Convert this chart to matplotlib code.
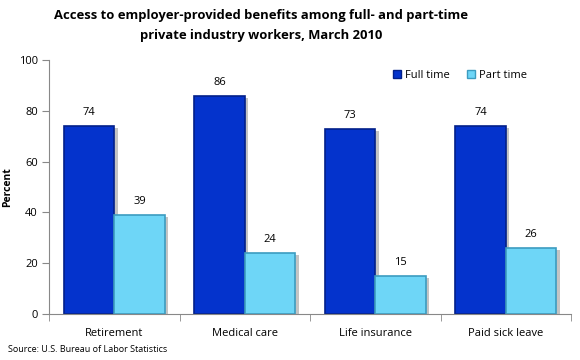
import matplotlib
matplotlib.use("Agg")
import matplotlib.pyplot as plt
from matplotlib.patches import Patch
import numpy as np

categories = ["Retirement", "Medical care", "Life insurance", "Paid sick leave"]
full_time = [74, 86, 73, 74]
part_time = [39, 24, 15, 26]
series_names = ["Full time", "Part time"]
yticks = [0, 20, 40, 60, 80, 100]

plt.rcParams['font.family'] = ['Open Sans', 'DejaVu Sans']

W, H = 580, 360
fig = plt.figure(figsize=(W/100, H/100), dpi=100)
ax = fig.add_axes([49/W, 1-314/H, (571-49)/W, (314-60)/H])

x = np.arange(len(categories))
bw = 0.387
full_col = "#0433CC"
full_edge = "#02208a"
part_col = "#6ED6F7"
part_edge = "#3c9cc0"

for xs, vals, fc, ec in [(x - bw/2, full_time, full_col, full_edge),
                         (x + bw/2, part_time, part_col, part_edge)]:
    ax.bar(xs + 0.025, vals, bw, bottom=-0.8, color="#c4c4c4", zorder=1)
    bars = ax.bar(xs, vals, bw, color=fc, edgecolor=ec, linewidth=1.2, zorder=2)
    for b, v in zip(bars, vals):
        ax.text(b.get_x() + b.get_width()/2, v + 3, str(v), ha="center", va="bottom",
                fontsize=8, color="#000000")

ax.set_xlim(-0.5, len(categories) - 0.5)
ax.set_ylim(0, 100)
ax.set_yticks(yticks)
ax.set_yticklabels([str(t) for t in yticks], fontsize=8)
ax.set_xticks(x)
ax.set_xticklabels(categories, fontsize=8)
ax.set_xticks(np.arange(-0.5, len(categories)), minor=True)
ax.tick_params(axis="x", which="major", length=0, pad=10)
ax.tick_params(axis="x", which="minor", length=5, direction="out", color="#888888")
ax.tick_params(axis="y", length=5, direction="out", color="#888888", pad=3)
for s in ["top", "right"]:
    ax.spines[s].set_visible(False)
for s in ["left", "bottom"]:
    ax.spines[s].set_color("#888888")
ax.set_ylabel("Percent", fontsize=7.5, fontweight="bold")
ax.yaxis.set_label_coords((13 - 49)/(571-49), 0.5)

handles = [Patch(facecolor=full_col, edgecolor=full_edge),
           Patch(facecolor=part_col, edgecolor=part_edge)]
ax.legend(handles, series_names, loc="upper right", bbox_to_anchor=(537/W, 1-60/H),
          bbox_transform=fig.transFigure, ncol=2, frameon=False, fontsize=8,
          handlelength=0.7, handleheight=0.7, handletextpad=0.4, columnspacing=1.5)

fig.text(261/W, 1-16/H, "Access to employer-provided benefits among full- and part-time",
         ha="center", va="center", fontsize=9.4, fontweight="bold")
fig.text(261/W, 1-36/H, "private industry workers, March 2010",
         ha="center", va="center", fontsize=9.4, fontweight="bold")
fig.text(8/W, 1-350/H, "Source: U.S. Bureau of Labor Statistics", ha="left", va="center",
         fontsize=6.5)

fig.savefig("out.png", dpi=100)
